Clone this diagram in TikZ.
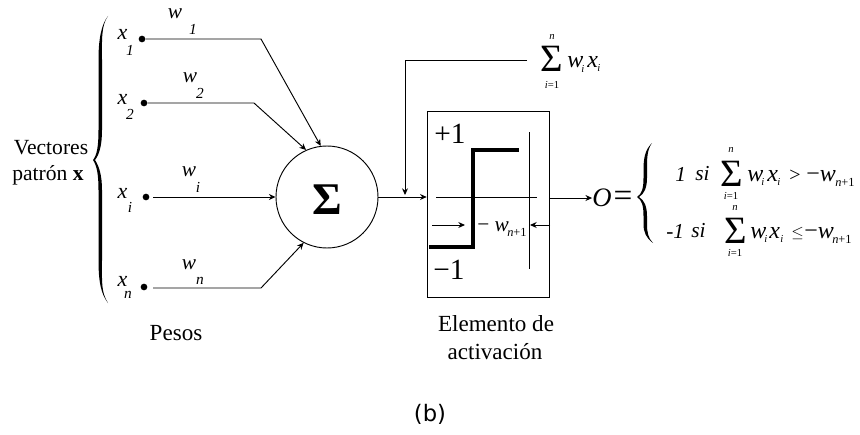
\documentclass[tikz,border=0pt]{standalone}
\usepackage{fontspec}
\setmainfont{Liberation Serif}
\newfontfamily\labelsans{DejaVu Sans}
\usetikzlibrary{arrows.meta}
\tikzset{
  x=0.75pt,y=-0.75pt,
  lab/.style={inner sep=0pt,font=\fontsize{16.2}{16.2}\selectfont},
  captext/.style={inner sep=0pt,font=\fontsize{17.3}{17.3}\selectfont},
  xlab/.style={inner sep=0pt,font=\fontsize{16.5}{16.5}\selectfont\itshape},
  wlab/.style={inner sep=0pt,font=\fontsize{16}{16}\selectfont\itshape},
  itl/.style={inner sep=0pt,font=\fontsize{16}{16}\selectfont\itshape},
  sub/.style={inner sep=0pt,font=\fontsize{11.5}{11.5}\selectfont\itshape},
  mini/.style={inner sep=0pt,font=\fontsize{9.3}{9.3}\selectfont\itshape},
  tinytext/.style={inner sep=0pt,font=\fontsize{8}{8}\selectfont\itshape},
  bigtext/.style={inner sep=0pt,anchor=west,font=\fontsize{18}{18}\selectfont\itshape},
  sumsign/.style={inner sep=0pt,font=\fontsize{29}{29}\selectfont},
  dot/.style={circle,fill=black,inner sep=0pt,minimum size=5pt},
  wire/.style={line width=0.7pt},
  arr/.style={wire,-{Stealth[length=5pt,width=4.5pt]}},
}
\begin{document}
\begin{tikzpicture}
\useasboundingbox (0,0) rectangle (860,435);
% input brace
\fill (108,16) .. controls (101,26) and (102,40) .. (102,60) -- (102,130)
  .. controls (102,146) and (99,155) .. (95,160)
  .. controls (99,166) and (102,175) .. (102,190) -- (102,260)
  .. controls (102,282) and (101,292) .. (108,303)
  .. controls (101,294) and (98.5,282) .. (98.5,260) -- (98.5,190)
  .. controls (98.5,175) and (97,166) .. (93,160)
  .. controls (97,155) and (98.5,146) .. (98.5,130) -- (98.5,60)
  .. controls (98.5,40) and (101,25) .. (108,16) -- cycle;
\node[lab] (vec) at (51,148) {Vectores};
\node[lab] (pat) at (48,175) {patrón \textbf{x}};
% inputs
\node[dot] (d1) at (142,39) {};
\node[dot] (d2) at (144,103) {};
\node[dot] (di) at (146,197) {};
\node[dot] (dn) at (144,287) {};
\node[xlab] (x1) at (122.5,34) {x};
\node[sub] (x1s) at (130,50) {1};
\node[xlab] (x2) at (122.5,99) {x};
\node[sub] (x2s) at (130,114) {2};
\node[xlab] (xi) at (122.5,193) {x};
\node[sub] (xis) at (130,207) {i};
\node[xlab] (xn) at (122.5,281) {x};
\node[sub] (xns) at (128,295) {n};
\node[wlab] (w1) at (175,14) {w};
\node[sub] (w1s) at (193,29) {1};
\node[wlab] (w2) at (190,78) {w};
\node[sub] (w2s) at (200,93) {2};
\node[wlab] (wi) at (189,172) {w};
\node[sub] (wis) at (198,187) {i};
\node[wlab] (wn) at (189,265) {w};
\node[sub] (wns) at (200,281) {n};
% summation
\node[circle,draw,line width=0.7pt,minimum size=76.5pt,inner sep=0pt] (sum) at (327,197) {};
\node[inner sep=0pt,font=\fontsize{34}{34}\selectfont\bfseries] (sigma) at (327,200) {Σ};
\coordinate (e1) at (261,39);
\coordinate (e2) at (254,103);
\coordinate (en) at (261,288);
\coordinate (si) at (153,197);
\coordinate (sn) at (153,288);
\draw[arr] (d1) -- (e1) -- (sum.97);
\draw[arr] (d2) -- (e2) -- (sum.114);
\draw[arr] (si) -- (sum.west);
\draw[arr] (sn) -- (en) -- (sum.-117);
% activation box
\node[draw,line width=0.7pt,minimum width=92pt,minimum height=139.5pt,inner sep=0pt] (box) at (488.5,204) {};
\draw[arr] (sum.east) -- (sum.east -| box.west);
\coordinate (ax1) at (436,197);
\coordinate (ax2) at (537,197);
\draw[wire] (ax1) -- (ax2);
\coordinate (v1) at (529.5,132);
\coordinate (v2) at (529.5,269);
\draw[wire] (v1) -- (v2);
\coordinate (s1) at (429,247);
\coordinate (s2) at (473,247);
\coordinate (s3) at (473,150);
\coordinate (s4) at (519,150);
\draw[line width=3.4pt,miter limit=10] (s1) -- (s2) -- (s3) -- (s4);
\coordinate (a1) at (432,225);
\coordinate (a2) at (465,225);
\coordinate (a3) at (550,225);
\coordinate (a4) at (530,225);
\draw[arr] (a1) -- (a2);
\draw[arr] (a3) -- (a4);
\node[inner sep=0pt,font=\fontsize{22}{22}\selectfont] (p1) at (450,134) {+1};
\node[inner sep=0pt,font=\fontsize{22}{22}\selectfont] (m1) at (449,270) {−1};
\node[inner sep=0pt,anchor=west,font=\fontsize{16}{16}\selectfont] (mw) at (477,227) {− \textit{w}};
\node[mini,anchor=west] (mws) at (507,232) {\textup{\textit{n}+1}};
% feedback sum
\node[sumsign] (ts) at (552,59) {Σ};
\node[tinytext] (tn) at (552,37) {n};
\node[tinytext] (ti) at (552,85) {i\textup{=1}};
\node[bigtext] (tw) at (567,62) {w};
\node[tinytext,anchor=west] (twi) at (581,69) {i};
\node[bigtext] (tx) at (587,62) {x};
\node[tinytext,anchor=west] (txi) at (597,68) {i};
\coordinate (fb) at (405,60);
\coordinate (fbe) at (405,195);
\coordinate (fbs) at (527,60);
\draw[arr] (fbs) -- (fb) -- (fbe);
% output
\node[inner sep=0pt,font=\fontsize{20}{20}\selectfont\itshape] (o) at (602,198) {O};
\node[inner sep=0pt,font=\fontsize{25}{25}\selectfont] (eq) at (623,199) {=};
\draw[arr] (box.east |- o) -- (o.west);
\fill (652,143) .. controls (647,150) and (647,158) .. (647,170) -- (647,178)
  .. controls (647,188) and (644,194) .. (639,197)
  .. controls (644,200) and (647,206) .. (647,216) -- (647,224)
  .. controls (647,232) and (648,238) .. (653,243)
  .. controls (646,238) and (643.5,232) .. (643.5,224) -- (643.5,216)
  .. controls (643.5,206) and (642,200) .. (637,197)
  .. controls (642,194) and (643.5,188) .. (643.5,178) -- (643.5,170)
  .. controls (643.5,158) and (645,150) .. (652,143) -- cycle;
% case 1
\node[itl,anchor=west] (c1) at (675,174) {1};
\node[itl,anchor=west] (c1si) at (695,174) {si};
\node[sumsign] (cs1) at (732,174) {Σ};
\node[tinytext] (cn1) at (731,150) {n};
\node[tinytext] (ci1) at (731,196) {i\textup{=1}};
\node[bigtext] (cw1) at (747,176) {w};
\node[tinytext,anchor=west] (cwi1) at (761,182) {i};
\node[bigtext] (cx1) at (767,176) {x};
\node[tinytext,anchor=west] (cxi1) at (777,182) {i};
\node[inner sep=0pt,anchor=west,font=\fontsize{15}{15}\selectfont] (cgt) at (789,176) {>};
\node[bigtext] (cm1) at (806,176) {\textup{−}w};
\node[mini,anchor=west] (cms1) at (835,182) {\textup{\textit{n}+1}};
% case 2
\node[itl,anchor=west] (c2) at (666,231) {-1};
\node[itl,anchor=west] (c2si) at (691,231) {si};
\node[sumsign] (cs2) at (736,231) {Σ};
\node[tinytext] (cn2) at (735,208) {n};
\node[tinytext] (ci2) at (735,253) {i\textup{=1}};
\node[bigtext] (cw2) at (750,233) {w};
\node[tinytext,anchor=west] (cwi2) at (764,239) {i};
\node[bigtext] (cx2) at (769,233) {x};
\node[tinytext,anchor=west] (cxi2) at (780,239) {i};
\node[inner sep=0pt,anchor=west,font=\fontsize{13}{13}\selectfont] (cle) at (791,233) {$\leq$};
\node[bigtext] (cm2) at (804,233) {\textup{−}w};
\node[mini,anchor=west] (cms2) at (832,239) {\textup{\textit{n}+1}};
% captions
\node[captext] (pesos) at (176,333) {Pesos};
\node[captext] (el) at (496,324) {Elemento de};
\node[captext] (ac) at (495,352) {activación};
\node[inner sep=0pt,font=\fontsize{17}{17}\selectfont\labelsans] (b) at (430,414) {(b)};
\end{tikzpicture}
\end{document}
